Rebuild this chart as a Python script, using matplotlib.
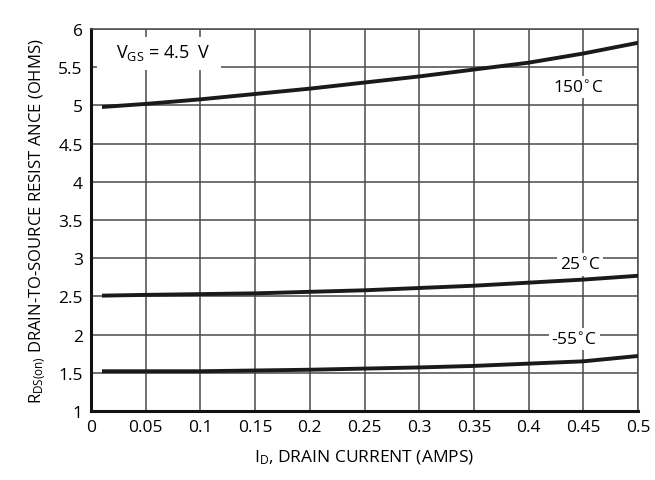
import numpy as np
import matplotlib
matplotlib.use('Agg')
import matplotlib.pyplot as plt
from matplotlib.patches import Rectangle

plt.rcParams['font.family'] = ['Open Sans', 'DejaVu Sans']

# drain current (A) and R_DS(on) (ohms)
i_d = [0.01, 0.05, 0.1, 0.15, 0.2, 0.25, 0.3, 0.35, 0.4, 0.45, 0.5]
r_150 = [4.98, 5.02, 5.08, 5.15, 5.22, 5.30, 5.38, 5.47, 5.56, 5.68, 5.82]
r_25 = [2.51, 2.52, 2.53, 2.54, 2.56, 2.58, 2.61, 2.64, 2.68, 2.72, 2.77]
r_m55 = [1.52, 1.52, 1.52, 1.53, 1.54, 1.555, 1.57, 1.59, 1.62, 1.65, 1.72]

xticks = [0, 0.05, 0.1, 0.15, 0.2, 0.25, 0.3, 0.35, 0.4, 0.45, 0.5]
xticklabels = ['0', '0.05', '0.1', '0.15', '0.2', '0.25', '0.3', '0.35', '0.4', '0.45', '0.5']
yticks = [1, 1.5, 2, 2.5, 3, 3.5, 4, 4.5, 5, 5.5, 6]
yticklabels = ['1', '1.5', '2', '2.5', '3', '3.5', '4', '4.5', '5', '5.5', '6']

fig = plt.figure(figsize=(6.55, 4.81), dpi=100)
ax = fig.add_axes([0.139, 0.1435, 0.835, 0.794])

for r in [r_150, r_25, r_m55]:
    ax.plot(i_d, r, color='#1a1a1a', lw=2.8, solid_capstyle='butt', zorder=3)

ax.set_xlim(0, 0.5)
ax.set_ylim(1, 6)
ax.set_xticks(xticks)
ax.set_xticklabels(xticklabels, fontsize=12.5)
ax.set_yticks(yticks)
ax.set_yticklabels(yticklabels, fontsize=12.5)
ax.tick_params(length=0, pad=6)
ax.grid(True, color='#4a4a4a', lw=1.1)

for side in ['top', 'right']:
    ax.spines[side].set_color('#4a4a4a')
    ax.spines[side].set_linewidth(1.1)
for side in ['left', 'bottom']:
    ax.spines[side].set_color('#111111')
    ax.spines[side].set_linewidth(2.2)

box = dict(facecolor='white', edgecolor='none', pad=2)
ax.text(0.445, 5.24, '150$^{\\circ}$C', fontsize=12.5, ha='center', va='center', bbox=box, zorder=4)
ax.text(0.447, 2.92, '25$^{\\circ}$C', fontsize=12.5, ha='center', va='center', bbox=box, zorder=4)
ax.text(0.442, 1.94, '-55$^{\\circ}$C', fontsize=12.5, ha='center', va='center', bbox=box, zorder=4)

# white panel behind the V_GS note
ax.add_patch(Rectangle((0.005, 5.47), 0.114, 0.42, facecolor='white', edgecolor='none', zorder=3.5))
ax.text(0.066, 5.70, '$\\mathregular{V_{GS}}$ = 4.5  V', fontsize=13, ha='center', va='center', zorder=4)

ax.set_xlabel('$\\mathregular{I_D}$, DRAIN CURRENT (AMPS)', fontsize=12.5, labelpad=9)
ax.set_ylabel('$\\mathregular{R_{DS(on)}}$ DRAIN-TO-SOURCE RESIST ANCE (OHMS)', fontsize=12, labelpad=7)

fig.savefig('out.png', dpi=100)
